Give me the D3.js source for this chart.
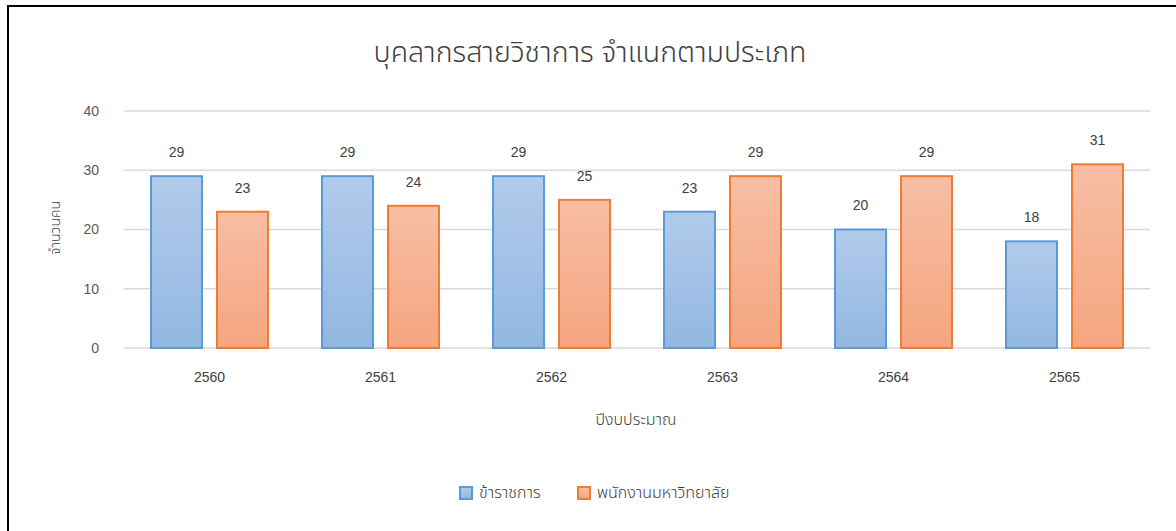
<!DOCTYPE html>
<html>
<head>
<meta charset="utf-8">
<script src="https://cdn.jsdelivr.net/npm/d3@7.9.0/dist/d3.min.js"></script>
<style>
  body { margin: 0; background: #fff; }
  svg { display: block; font-family: "Liberation Sans", "Noto Sans Thai", "Noto Sans", sans-serif; }
  .thai { font-family: "Noto Sans Thai", "Noto Sans", sans-serif; font-weight: 300; }
</style>
</head>
<body>
<svg width="1176" height="531"></svg>
<script>
const years = ["2560", "2561", "2562", "2563", "2564", "2565"];
const civilServants = [29, 29, 29, 23, 20, 18];
const universityStaff = [23, 24, 25, 29, 29, 31];
const seriesNames = ["ข้าราชการ", "พนักงานมหาวิทยาลัย"];
const yTicks = [0, 10, 20, 30, 40];

const svg = d3.select("svg");
const plotLeft = 124, plotRight = 1150, plotTop = 111, plotBottom = 348;

// frame: only the top and left edges show in the reference
svg.append("line").attr("x1", 8).attr("x2", 1176).attr("y1", 6).attr("y2", 6)
  .attr("stroke", "#000").attr("stroke-width", 2);
svg.append("line").attr("x1", 8).attr("x2", 8).attr("y1", 5).attr("y2", 531)
  .attr("stroke", "#000").attr("stroke-width", 2);

const defs = svg.append("defs");
function grad(id, c1, c2) {
  let g = defs.append("linearGradient").attr("id", id)
    .attr("x1", 0).attr("y1", 0).attr("x2", 0).attr("y2", 1);
  g.append("stop").attr("offset", "0%").attr("stop-color", c1);
  g.append("stop").attr("offset", "100%").attr("stop-color", c2);
}
grad("gBlue", "#b1cbea", "#92b7e2");
grad("gOrange", "#f7bea5", "#f5a57f");

let x = d3.scaleBand().domain(years).range([plotLeft, plotRight]);
let y = d3.scaleLinear().domain([0, 40]).range([plotBottom, plotTop]);
let inner = d3.scaleBand().domain([0, 1]).range([0, x.bandwidth()]).paddingInner(0.197).paddingOuter(0.394);

// gridlines
svg.append("g").selectAll("line").data(yTicks).join("line")
  .attr("x1", plotLeft).attr("x2", plotRight)
  .attr("y1", d => y(d)).attr("y2", d => y(d))
  .attr("stroke", "#d9d9d9").attr("stroke-width", 1.3);

// y tick labels
svg.append("g").selectAll("text").data(yTicks).join("text")
  .attr("x", 99).attr("y", d => y(d)).attr("dy", "0.35em")
  .attr("text-anchor", "end").attr("font-size", 14).attr("fill", "#595959")
  .text(d => d);

// x tick labels
svg.append("g").selectAll("text").data(years).join("text")
  .attr("x", d => x(d) + x.bandwidth() / 2).attr("y", 382)
  .attr("text-anchor", "middle").attr("font-size", 14).attr("fill", "#404040")
  .text(d => d);

const series = [
  { values: civilServants, fill: "url(#gBlue)", stroke: "#5b9bd5" },
  { values: universityStaff, fill: "url(#gOrange)", stroke: "#ed7d31" },
];

series.forEach((s, si) => {
  let g = svg.append("g");
  g.selectAll("rect").data(s.values).join("rect")
    .attr("x", (d, i) => x(years[i]) + inner(si) + 1)
    .attr("y", d => y(d))
    .attr("width", inner.bandwidth() - 2)
    .attr("height", d => y(0) - y(d))
    .attr("fill", s.fill).attr("stroke", s.stroke).attr("stroke-width", 2);
  g.selectAll("text").data(s.values).join("text")
    .attr("x", (d, i) => x(years[i]) + inner(si) + inner.bandwidth() / 2)
    .attr("y", d => y(d) - 24).attr("dy", "0.35em")
    .attr("text-anchor", "middle").attr("font-size", 14).attr("fill", "#404040")
    .text(d => d);
});

// title
svg.append("text").attr("class", "thai").attr("x", 590).attr("y", 52).attr("dy", "0.35em")
  .attr("text-anchor", "middle").attr("font-size", 28.5).attr("fill", "#404040")
  .text("บุคลากรสายวิชาการ จำแนกตามประเภท");

// axis titles
svg.append("text").attr("class", "thai").attr("transform", "translate(55,228) rotate(-90)").attr("dy", "0.35em")
  .attr("text-anchor", "middle").attr("font-size", 14).attr("fill", "#404040")
  .text("จำนวนคน");
svg.append("text").attr("class", "thai").attr("x", 636).attr("y", 419).attr("dy", "0.35em")
  .attr("text-anchor", "middle").attr("font-size", 16).attr("fill", "#404040")
  .text("ปีงบประมาณ");

// legend
const legendX = [460, 578];
const legend = svg.append("g");
series.forEach((s, i) => {
  legend.append("rect").attr("x", legendX[i]).attr("y", 487).attr("width", 12).attr("height", 12)
    .attr("fill", s.fill).attr("stroke", s.stroke).attr("stroke-width", 2);
  legend.append("text").attr("class", "thai").attr("x", legendX[i] + 19).attr("y", 492).attr("dy", "0.35em")
    .attr("font-size", 16).attr("fill", "#404040").text(seriesNames[i]);
});
</script>
</body>
</html>
